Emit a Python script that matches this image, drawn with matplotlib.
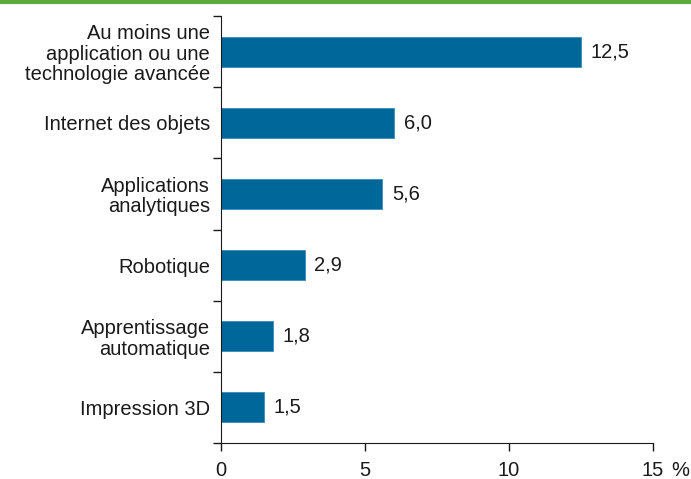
import matplotlib
matplotlib.use("Agg")
import matplotlib.pyplot as plt
from matplotlib.lines import Line2D
import matplotlib.transforms as mtransforms

categories = ["Au moins une\napplication ou une\ntechnologie avancée",
              "Internet des objets",
              "Applications\nanalytiques",
              "Robotique",
              "Apprentissage\nautomatique",
              "Impression 3D"]
values = [12.5, 6.0, 5.6, 2.9, 1.8, 1.5]
value_labels = ["12,5", "6,0", "5,6", "2,9", "1,8", "1,5"]
xticks = [0, 5, 10, 15]
xticklabels = ["0", "5", "10", "15"]

plt.rcParams['font.family'] = ['Liberation Sans', 'DejaVu Sans']
FS = 14.5
TC = "#1a1a1a"
fig = plt.figure(figsize=(6.91, 4.79), dpi=100)
ax = fig.add_axes([221/691, 36/479, (653-221)/691, (443-16)/479])

n = len(categories)
ypos = list(range(n))
ax.barh(ypos, values, height=0.42, color="#00679a", edgecolor="#3a8cc0", linewidth=0.6)
ax.set_ylim(n - 0.5, -0.5)
ax.set_xlim(0, 15)

for y, v, lab in zip(ypos, values, value_labels):
    ax.annotate(lab, (v, y), xytext=(7, 0), textcoords="offset points",
                ha="left", va="center", fontsize=FS, color=TC)

ax.set_yticks(ypos)
ax.set_yticklabels(categories, fontsize=FS, color=TC, linespacing=1.1)
ax.tick_params(axis="y", which="major", length=0, pad=8)
ax.set_yticks([i - 0.5 for i in range(n + 1)], minor=True)
ax.tick_params(axis="y", which="minor", length=6, width=1, direction="out", color=TC)

ax.set_xticks(xticks)
ax.set_xticklabels(xticklabels, fontsize=FS, color=TC)
ax.tick_params(axis="x", length=6, width=1, direction="out", pad=7, color=TC)
pct_lbl = ax.get_xticklabels()[-1]
t = ax.text(15, 0, "%", fontsize=FS, color=TC, ha="left", va="top")
t.set_transform(ax.get_xaxis_transform() +
                mtransforms.ScaledTranslation(18/100, -13/100, fig.dpi_scale_trans))

for s in ["top", "right"]:
    ax.spines[s].set_visible(False)
ax.spines["left"].set_color(TC)
ax.spines["bottom"].set_color(TC)
ax.spines["bottom"].set_bounds(0, 15)

fig.add_artist(Line2D([0, 1], [1 - 1.5/479, 1 - 1.5/479], transform=fig.transFigure,
                      color="#5fa83b", linewidth=3))

# align "%" baseline with tick labels
fig.canvas.draw()
r = fig.canvas.get_renderer()
tb = pct_lbl.get_window_extent(r)
pb = t.get_window_extent(r)
dy = (tb.y1 - pb.y1) / fig.dpi
t.set_transform(ax.get_xaxis_transform() +
                mtransforms.ScaledTranslation(18/100, -13/100 + dy, fig.dpi_scale_trans))

fig.savefig("out.png", dpi=100)
